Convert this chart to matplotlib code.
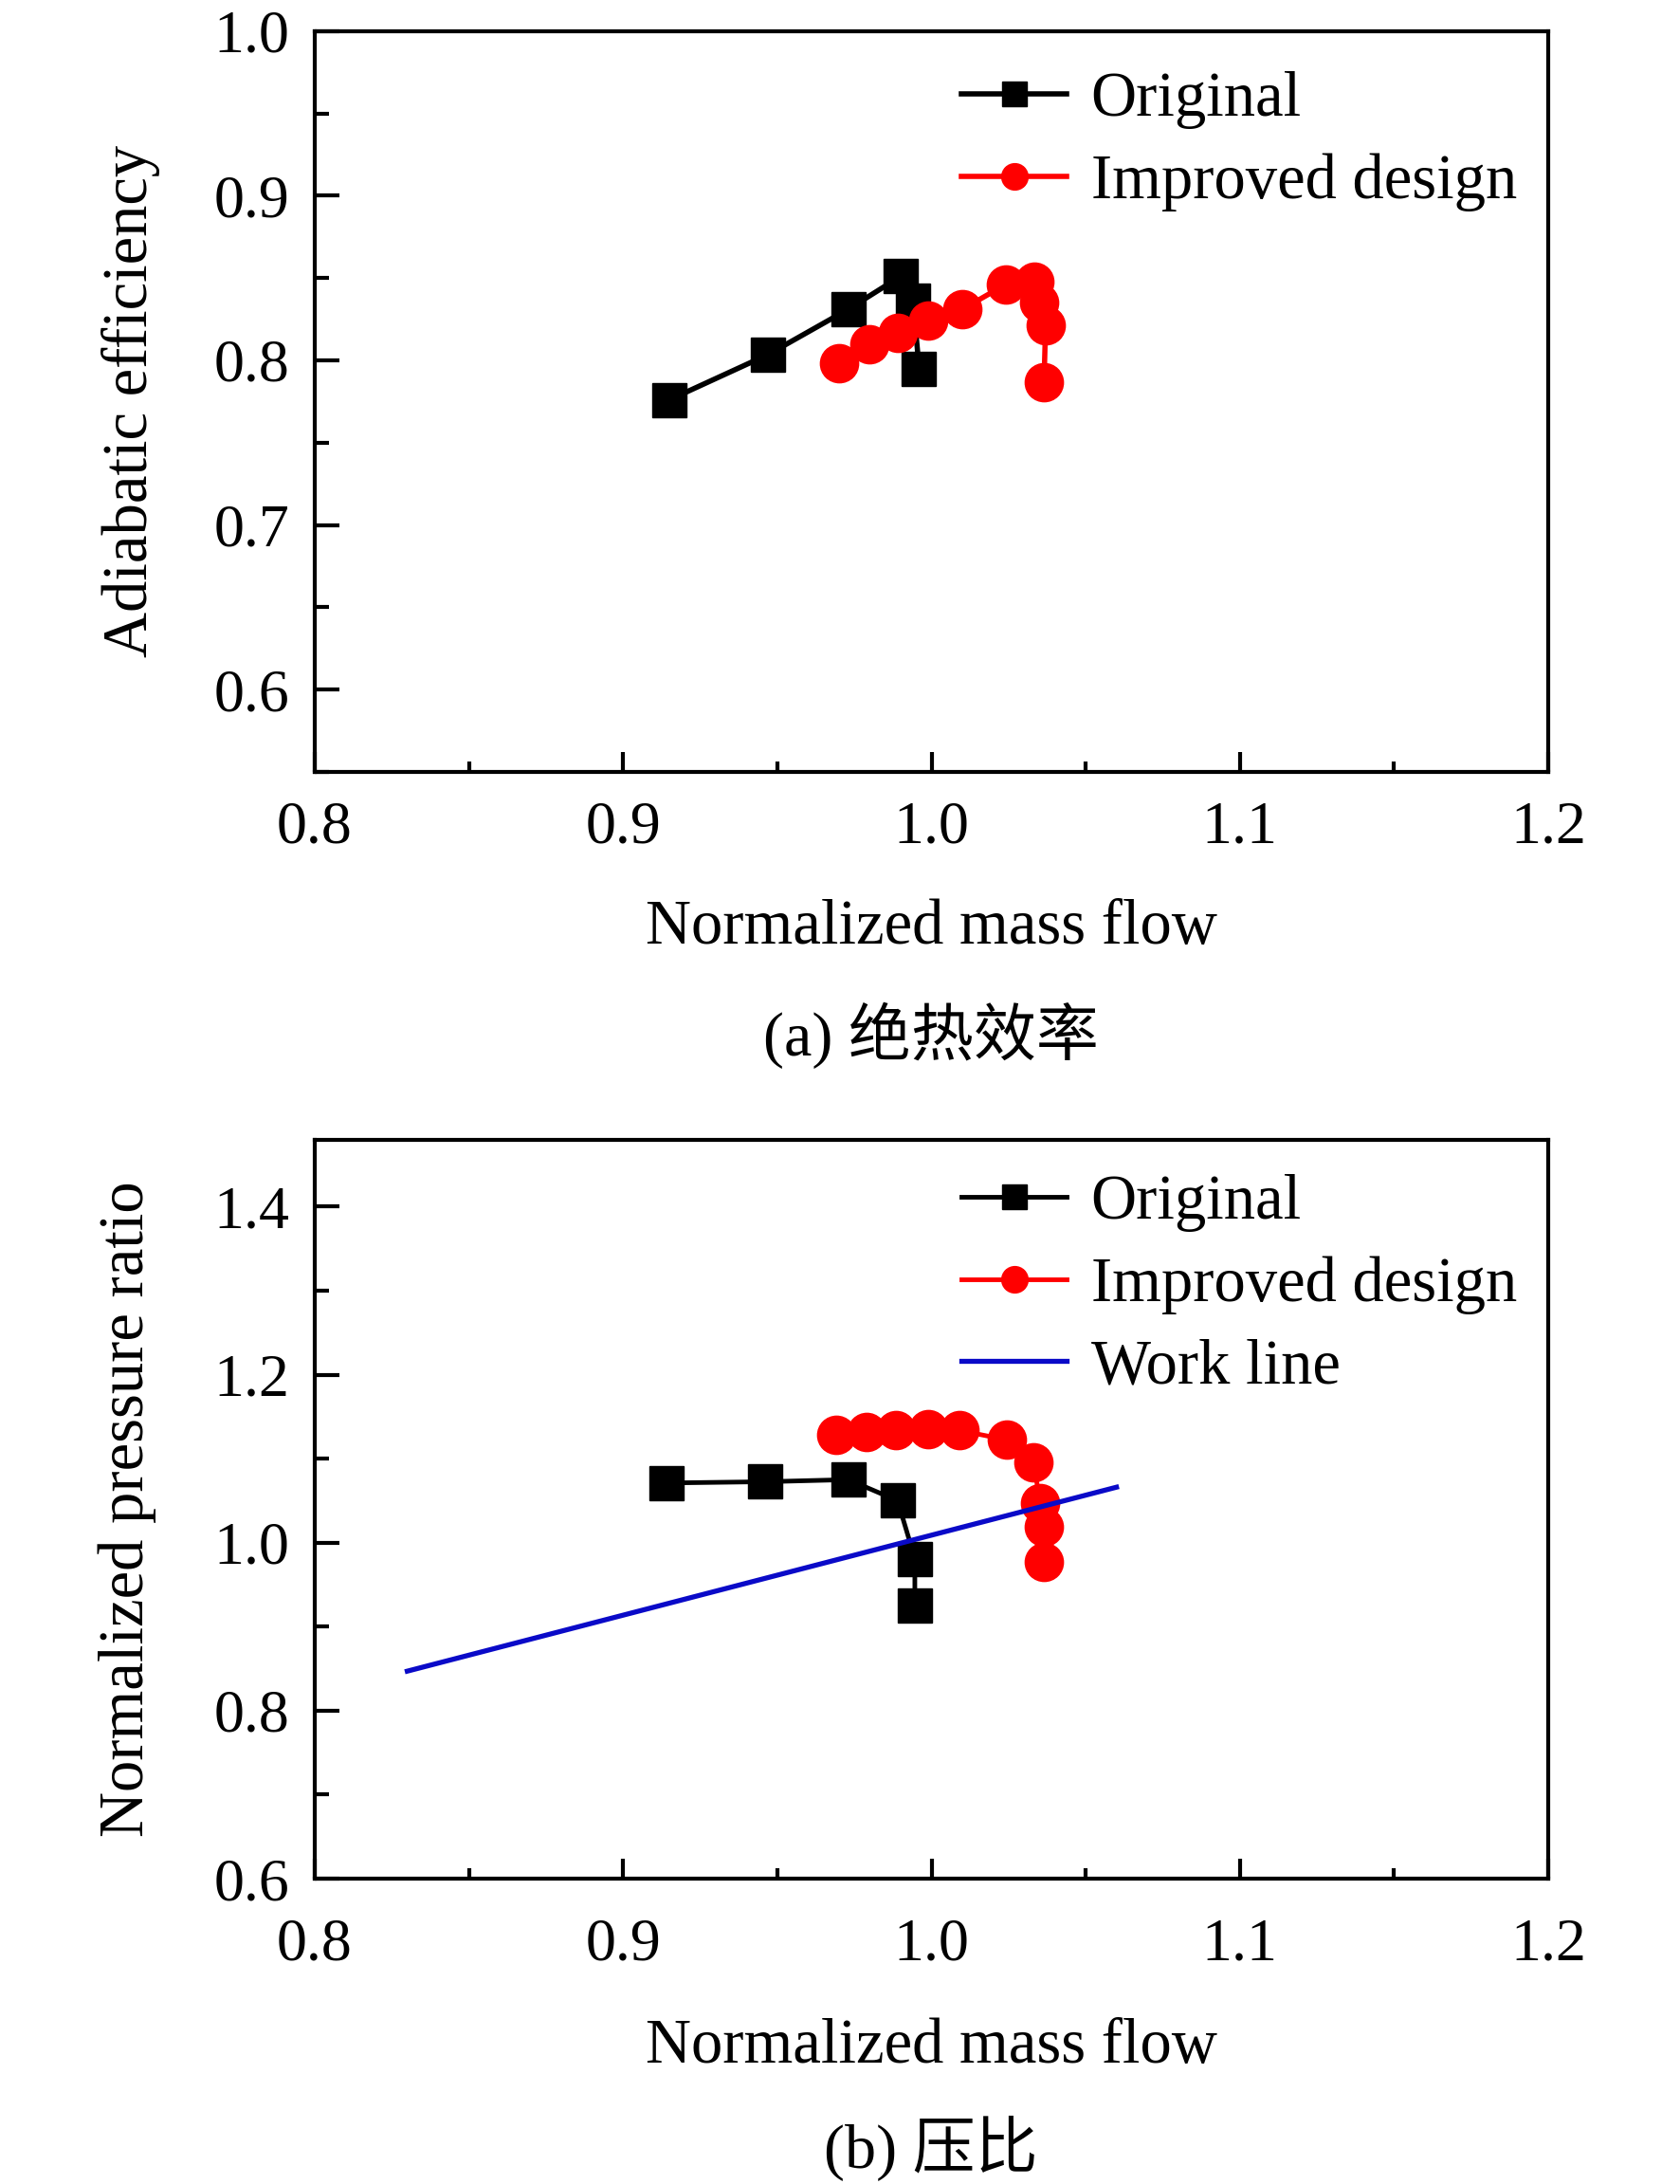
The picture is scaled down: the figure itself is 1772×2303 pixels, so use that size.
import numpy as np
import matplotlib
matplotlib.use("Agg")
import matplotlib.pyplot as plt
from matplotlib.ticker import MultipleLocator

plt.rcParams['font.family'] = ['Liberation Serif', 'Noto Sans CJK SC', 'DejaVu Sans']

# (a) adiabatic efficiency
eff_orig_x = [0.915, 0.947, 0.973, 0.990, 0.994, 0.996]
eff_orig_y = [0.776, 0.8035, 0.831, 0.851, 0.836, 0.795]
eff_imp_x = [0.970, 0.980, 0.989, 0.999, 1.010, 1.024, 1.0335, 1.035, 1.037, 1.0365]
eff_imp_y = [0.798, 0.810, 0.8165, 0.824, 0.831, 0.846, 0.848, 0.835, 0.821, 0.787]

# (b) pressure ratio
pr_orig_x = [0.914, 0.946, 0.973, 0.989, 0.9946, 0.9946]
pr_orig_y = [1.071, 1.0725, 1.075, 1.050, 0.981, 0.9255]
pr_imp_x = [0.969, 0.979, 0.9886, 0.9988, 1.009, 1.0244, 1.033, 1.0353, 1.0364, 1.0364]
pr_imp_y = [1.128, 1.132, 1.1336, 1.1354, 1.1336, 1.1224, 1.0961, 1.0474, 1.0192, 0.977]
work_x = [0.83, 1.06]
work_y = [0.847, 1.066]

W, H = 1772, 2303
fig = plt.figure(figsize=(W / 100, H / 100), dpi=100)

ax1 = fig.add_axes([332 / W, 1 - 814 / H, 1301 / W, (814 - 32.7) / H])
ax2 = fig.add_axes([332 / W, 1 - 1981 / H, 1301 / W, (1981 - 1201.5) / H])

tick_fs = 46
lab_fs = 48
leg_fs = 48

def style(ax, ymaj, ymin, xpad):
    ax.set_xlim(0.8, 1.2)
    ax.xaxis.set_major_locator(MultipleLocator(0.1))
    ax.xaxis.set_minor_locator(MultipleLocator(0.05))
    ax.yaxis.set_major_locator(MultipleLocator(ymaj))
    ax.yaxis.set_minor_locator(MultipleLocator(ymin))
    ax.xaxis.set_major_formatter(plt.FormatStrFormatter('%.1f'))
    ax.yaxis.set_major_formatter(plt.FormatStrFormatter('%.1f'))
    ax.tick_params(axis='both', which='both', direction='in', top=False, right=False,
                   width=3, labelsize=tick_fs)
    ax.tick_params(axis='y', which='major', length=19, pad=19)
    ax.tick_params(axis='y', which='minor', length=11)
    ax.tick_params(axis='x', which='major', length=15, pad=xpad)
    ax.tick_params(axis='x', which='minor', length=8)
    for s in ax.spines.values():
        s.set_linewidth(3)

def add_legend(ax, top_px):
    leg = ax.legend(loc='upper left', bbox_to_anchor=(1014 / W, 1 - top_px / H),
                    bbox_transform=fig.transFigure, frameon=False, fontsize=leg_fs,
                    handlelength=1.67, handletextpad=0.38, labelspacing=0.38,
                    borderpad=0, borderaxespad=0)
    leg.legend_handles[0].set_markersize(19)
    leg.legend_handles[1].set_markersize(20)
    return leg

# panel (a)
ax1.plot(eff_orig_x, eff_orig_y, '-s', color='black', lw=4, ms=26, label='Original')
ax1.plot(eff_imp_x, eff_imp_y, '-o', color='#ff0000', lw=4, ms=29, label='Improved design')
ax1.set_ylim(0.55, 1.0)
style(ax1, 0.1, 0.05, 22)
ax1.set_xlabel('Normalized mass flow', fontsize=lab_fs, va='center')
ax1.xaxis.set_label_coords(0.5, -0.21)
ax1.set_ylabel('Adiabatic efficiency', fontsize=lab_fs, va='center')
ax1.yaxis.set_label_coords(-0.149, 0.5)
add_legend(ax1, 75)

fig.text(982 / W, 1 - 1092 / H, '(a) 绝热效率', ha='center', va='center', fontsize=47.5)

# panel (b)
ax2.plot(pr_orig_x, pr_orig_y, '-s', color='black', lw=3.5, ms=26, label='Original')
ax2.plot(pr_imp_x, pr_imp_y, '-o', color='#ff0000', lw=3.5, ms=29, label='Improved design')
ax2.plot(work_x, work_y, '-', color='#0a0ac8', lw=3.8, label='Work line')
ax2.set_ylim(0.6, 1.48)
style(ax2, 0.2, 0.1, 30)
ax2.set_xlabel('Normalized mass flow', fontsize=lab_fs, va='center')
ax2.xaxis.set_label_coords(0.5, -0.228)
ax2.set_ylabel('Normalized pressure ratio', fontsize=lab_fs, va='center')
ax2.yaxis.set_label_coords(-0.152, 0.5)
add_legend(ax2, 1238)

fig.text(982 / W, 1 - 2265 / H, '(b) 压比', ha='center', va='center', fontsize=47.5)

fig.savefig('out.png', dpi=100)
